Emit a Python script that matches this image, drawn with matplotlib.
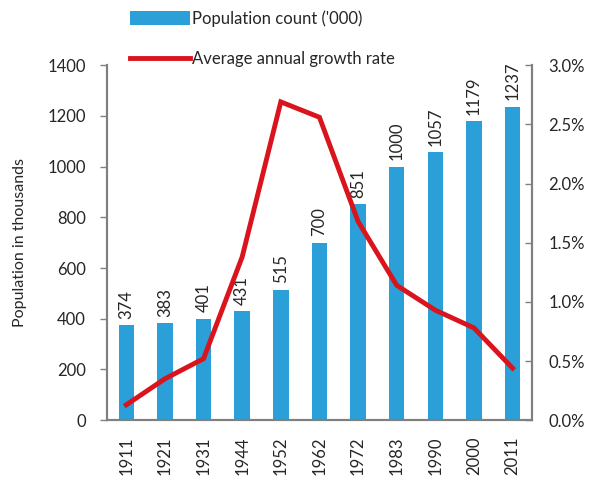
import matplotlib.pyplot as plt
from matplotlib.lines import Line2D
from matplotlib.patches import Patch
from matplotlib.ticker import FuncFormatter

plt.rcParams['font.family'] = ['Lato', 'DejaVu Sans']

years = ['1911', '1921', '1931', '1944', '1952', '1962', '1972', '1983', '1990', '2000', '2011']
population = [374, 383, 401, 431, 515, 700, 851, 1000, 1057, 1179, 1237]
growth_rate = [0.13, 0.35, 0.52, 1.38, 2.69, 2.56, 1.68, 1.14, 0.93, 0.78, 0.44]

bar_color = '#2a9fd8'
line_color = '#d9141c'
axis_color = '#808080'
text_color = '#262626'
fs = 12

fig = plt.figure(figsize=(5.91, 4.83), dpi=100)
ax1 = fig.add_axes([0.181, 0.130, 0.719, 0.735])
x = range(len(years))
ax1.bar(x, population, width=0.4, color=bar_color, zorder=2)
for xi, val in zip(x, population):
    ax1.text(xi, val + 25, str(val), rotation=90, ha='center', va='bottom',
             fontsize=fs, color=text_color)
ax1.set_xlim(-0.5, len(years) - 0.5)
ax1.set_ylim(0, 1400)
ax1.set_yticks(range(0, 1401, 200))
ax1.set_xticks(list(x))
ax1.set_xticklabels(years, rotation=90, fontsize=fs, color=text_color)
ax1.set_ylabel('Population in thousands', fontsize=fs - 0.5, color=text_color, labelpad=15)
ax1.tick_params(axis='y', labelsize=fs, colors=text_color, length=5,
                width=1, color=axis_color, pad=10)
ax1.tick_params(axis='x', length=0, pad=12)

ax2 = ax1.twinx()
ax2.plot(x, growth_rate, color=line_color, linewidth=3.5, solid_joinstyle='miter', zorder=3)
ax2.set_ylim(0, 3.0)
ax2.set_yticks([0, 0.5, 1.0, 1.5, 2.0, 2.5, 3.0])
ax2.yaxis.set_major_formatter(FuncFormatter(lambda v, p: '{0:.1f}%'.format(v)))
ax2.tick_params(axis='y', labelsize=fs, colors=text_color, length=5, width=1,
                color=axis_color, direction='in', pad=12)

for ax in (ax1, ax2):
    ax.spines['top'].set_visible(False)
    for s in ('left', 'right', 'bottom'):
        ax.spines[s].set_color(axis_color)
        ax.spines[s].set_linewidth(1.5)

handles = [Patch(facecolor=bar_color, edgecolor='none'),
           Line2D([0], [0], color=line_color, linewidth=3.5)]
labels = ["Population count ('000)", 'Average annual growth rate']
fig.legend(handles, labels, loc='upper left', bbox_to_anchor=(0.195, 1.01),
           frameon=False, handlelength=3.6, handleheight=0.9, handletextpad=0.1,
           labelspacing=1.45, fontsize=fs, labelcolor=text_color)

fig.savefig('out.png', dpi=100)
